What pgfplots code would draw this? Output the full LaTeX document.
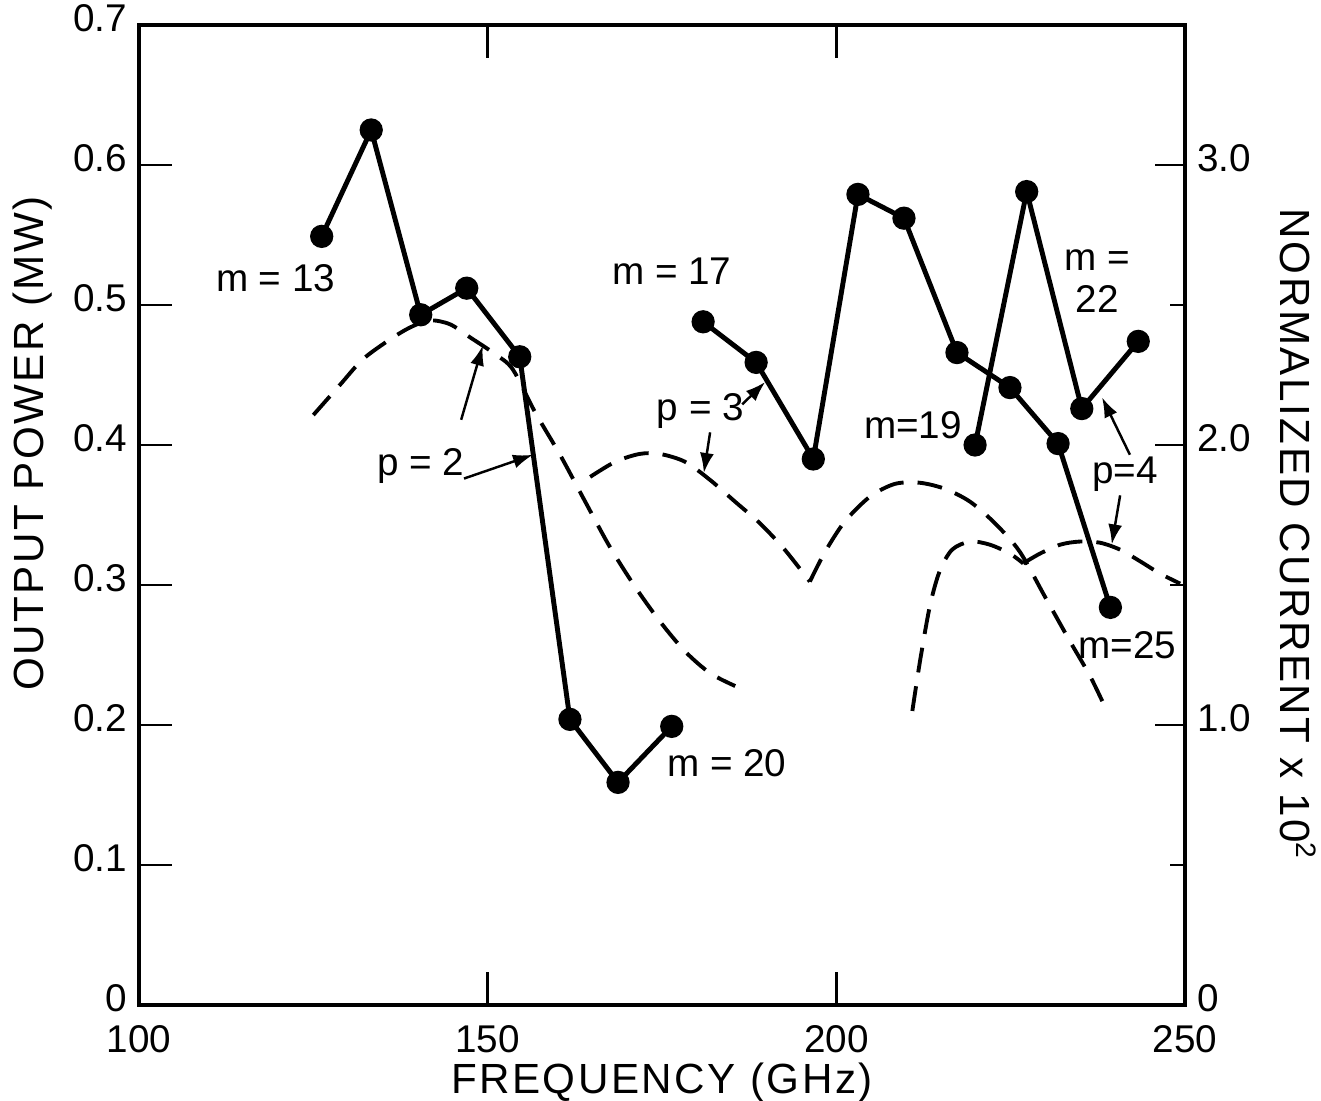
\documentclass[border=0pt]{standalone}
\usepackage{fontspec}
\setmainfont{Liberation Sans}
\newfontfamily\lblfont[LetterSpace=6]{Liberation Sans}
\usepackage{pgfplots}
\pgfplotsset{compat=1.18}
\usetikzlibrary{arrows.meta}
\tikzset{
  ann/.style={font=\fontsize{11}{13}\selectfont},
  arr/.style={black, line width=0.7pt, -{Latex[length=2mm,width=1.4mm]}},
}

\begin{document}
\begin{tikzpicture}
\pgfplotsset{
  base/.style={
    scale only axis, width=10.46cm, height=9.80cm,
    xmin=100, xmax=250,
    axis line style={line width=0.9pt},
    tick style={line width=0.8pt, black},
    tick align=inside,
    /pgf/number format/assume math mode=true,
    ticklabel style={font=\fontsize{11}{13}\selectfont},
    clip=false,
  },
  dcurve/.style={black, line width=1.1pt, dash pattern=on 2.5mm off 1.4mm, smooth, tension=0.5},
  scurve/.style={black, line width=1.4pt, mark=*, mark size=2.6pt, mark options={solid}},
}
\begin{axis}[base,
  ymin=0, ymax=0.7,
  xtick={100,150,200,250}, xticklabels={100,150,200,250},
  ytick={0,0.1,0.2,0.3,0.4,0.5,0.6,0.7},
  yticklabels={0,0.1,0.2,0.3,0.4,0.5,0.6,0.7},
  xtick pos=both, ytick pos=left,
  xticklabel pos=left, yticklabel pos=left,
  major tick length=0.33cm,
  xticklabel style={yshift=-0.2cm, inner sep=0pt},
  yticklabel style={xshift=-0.08cm, yshift=0.07cm, inner sep=1pt},
]
\addplot[scurve] coordinates {(126.2,0.549) (133.3,0.625) (140.4,0.493) (147.0,0.512) (154.6,0.463) (161.8,0.204) (168.7,0.159) (176.4,0.199)};
\addplot[scurve] coordinates {(180.9,0.488) (188.5,0.459) (196.7,0.390) (203.1,0.579) (209.7,0.562) (217.3,0.466) (224.9,0.441) (231.8,0.401) (239.3,0.284)};
\addplot[scurve] coordinates {(219.9,0.400) (227.3,0.581) (235.2,0.426) (243.3,0.474)};

\node[ann] at (axis cs:119.6,0.519) {m = 13};
\node[ann] at (axis cs:176.4,0.524) {m = 17};
\node[ann] at (axis cs:184.3,0.173) {m = 20};
\node[ann] at (axis cs:211.0,0.414) {m=19};
\node[ann, align=center] at (axis cs:237.4,0.517) {m =\\[-1pt]22};
\node[ann] at (axis cs:241.7,0.257) {m=25};
\node[ann] at (axis cs:140.4,0.385) {p = 2};
\node[ann] at (axis cs:180.5,0.424) {p = 3};
\node[ann] at (axis cs:241.4,0.379) {p=4};

\draw[arr] (axis cs:146.2,0.418) -- (axis cs:149.3,0.471);
\draw[arr] (axis cs:146.6,0.376) -- (axis cs:156.5,0.393);
\draw[arr] (axis cs:186.5,0.429) -- (axis cs:189.8,0.445);
\draw[arr] (axis cs:181.9,0.409) -- (axis cs:181.0,0.380);
\draw[arr] (axis cs:242.1,0.393) -- (axis cs:238.1,0.434);
\draw[arr] (axis cs:240.7,0.364) -- (axis cs:239.5,0.329);

\node[font={\fontsize{12}{14}\lblfont}, inner sep=0pt] at (rel axis cs:0.5,-0.0790) {FREQUENCY (GHz)};
\node[font={\fontsize{12}{14}\lblfont}, rotate=90] at (rel axis cs:-0.102,0.573) {OUTPUT POWER (MW)};
\end{axis}

\begin{axis}[base,
  ymin=0, ymax=3.5,
  axis x line=none, axis y line*=right,
  ytick={0,1,2,3}, yticklabels={0,1.0,2.0,3.0},
  minor ytick={0.5,1.5,2.5},
  major tick length=0.3cm, minor tick length=0.15cm,
  yticklabel style={xshift=0.08cm, yshift=0.07cm, inner sep=1pt},
]
\addplot[dcurve] coordinates {(125.0,2.107) (128.8,2.214) (132.1,2.306) (136.0,2.377) (138.9,2.420) (141.7,2.445) (144.6,2.431) (147.5,2.384) (151.1,2.324) (153.6,2.270) (156.8,2.117) (160.4,1.964) (164.0,1.797) (167.5,1.637) (171.1,1.495) (174.7,1.370) (178.3,1.263) (181.9,1.185) (185.5,1.139)};
\addplot[dcurve] coordinates {(164.7,1.886) (168.3,1.940) (171.8,1.968) (174.7,1.968) (178.3,1.940) (181.9,1.875) (185.5,1.797) (189.1,1.719) (192.6,1.626) (196.2,1.512)};
\addplot[dcurve] coordinates {(196.2,1.512) (198.4,1.619) (201.2,1.726) (204.8,1.815) (208.4,1.861) (212.0,1.865) (215.6,1.843) (219.2,1.797) (222.8,1.719) (226.3,1.619) (229.9,1.459) (233.5,1.299) (236.4,1.174) (238.8,1.050)};
\addplot[dcurve] coordinates {(210.9,1.050) (212.0,1.228) (213.4,1.423) (214.8,1.548) (216.6,1.626) (219.2,1.655) (222.0,1.644) (224.9,1.612) (226.8,1.577)};
\addplot[dcurve] coordinates {(226.8,1.577) (229.2,1.612) (232.1,1.644) (234.9,1.655) (237.8,1.651) (240.7,1.626) (243.6,1.584) (246.4,1.541) (249.3,1.505)};

\node[font={\fontsize{12}{14}\lblfont}, rotate=-90] at (rel axis cs:1.108,0.48) {NORMALIZED CURRENT x 10\textsuperscript{2}};
\end{axis}
\pgfresetboundingbox
\path (-1.39cm,-0.96cm) rectangle (11.82cm,10.05cm);
\end{tikzpicture}
\end{document}
